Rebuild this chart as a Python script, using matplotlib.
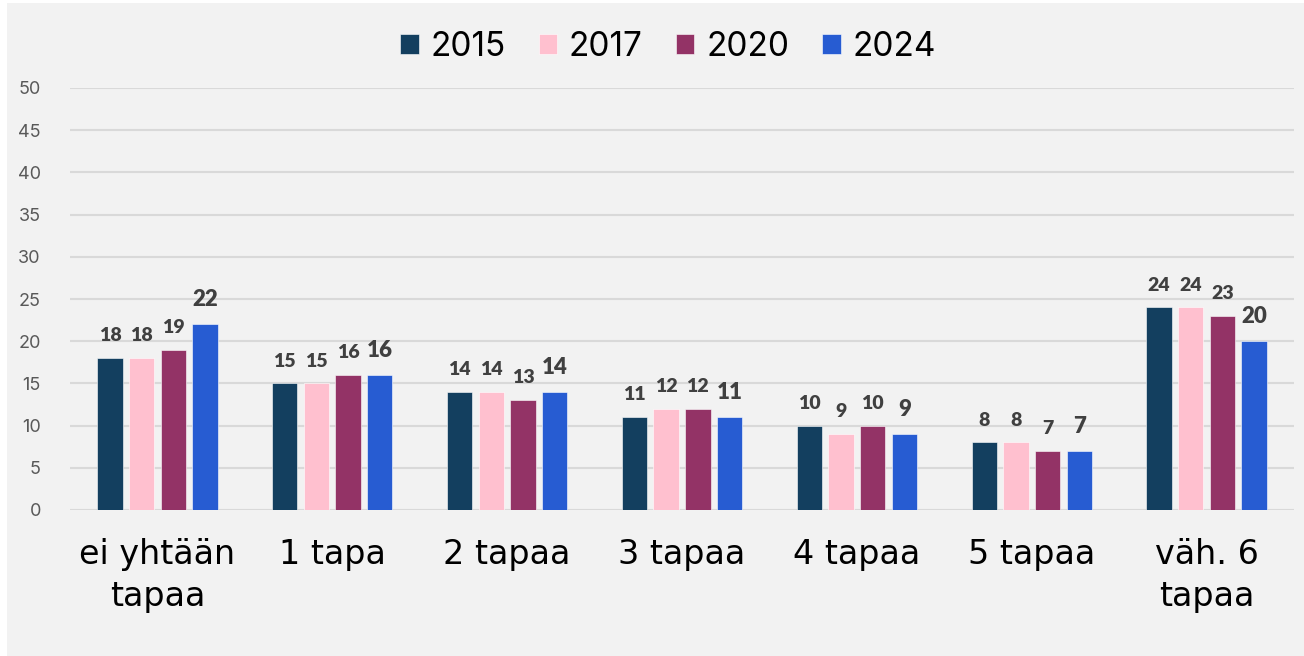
import matplotlib
matplotlib.use("Agg")
import matplotlib.pyplot as plt
import numpy as np
from matplotlib.patches import Rectangle

categories = ["ei yhtään\ntapaa", "1 tapa", "2 tapaa", "3 tapaa", "4 tapaa", "5 tapaa", "väh. 6\ntapaa"]
years = ["2015", "2017", "2020", "2024"]
v2015 = [18, 15, 14, 11, 10, 8, 24]
v2017 = [18, 15, 14, 12, 9, 8, 24]
v2020 = [19, 16, 13, 12, 10, 7, 23]
v2024 = [22, 16, 14, 11, 9, 7, 20]
series = [v2015, v2017, v2020, v2024]
colors = ["#133F5F", "#FFC0CF", "#933366", "#275CD2"]
yticks = [0, 5, 10, 15, 20, 25, 30, 35, 40, 45, 50]

BG = "#F2F2F2"
fig = plt.figure(figsize=(13.04, 6.56), dpi=100)
fig.patch.set_facecolor("white")
fig.add_artist(Rectangle((7/1304, 0), 1 - 7/1304, 1 - 3/656, transform=fig.transFigure,
                         facecolor=BG, edgecolor="none", zorder=-10))

ax = fig.add_axes([70/1304, 1 - 510/656, (1294 - 70)/1304, (510 - 88)/656])
ax.set_facecolor(BG)
ax.patch.set_alpha(0)

x = np.arange(len(categories))
pitch = 0.181
width = 0.145
for i, (vals, c, yr) in enumerate(zip(series, colors, years)):
    pos = x + (i - 1.5) * pitch
    ax.bar(pos, vals, width, color=c, label=yr, zorder=3, edgecolor="white", linewidth=0.4)
    fs = 16 if i == 3 else 14
    for px, v in zip(pos, vals):
        ax.annotate(str(v), (px, v), xytext=(0, 10), textcoords="offset points",
                    ha="center", va="bottom", fontsize=fs, fontweight="heavy",
                    color="#404040", family="Lato")

ax.set_xlim(-0.5, len(categories) - 0.5)
ax.set_ylim(0, 50)
ax.set_yticks(yticks)
ax.set_yticklabels([str(t) for t in yticks], fontsize=13, color="#595959", family="Inter")
ax.yaxis.grid(True, color="#D9D9D9", linewidth=1.5, zorder=0)
ax.set_axisbelow(True)
ax.tick_params(axis="y", length=0, pad=21)
ax.tick_params(axis="x", length=0, pad=20)
ax.set_xticks(x)
ax.set_xticklabels(categories, fontsize=24, color="#000000", family="DejaVu Sans", linespacing=1.35)
for s in ax.spines.values():
    s.set_visible(False)

leg = fig.legend(loc="center", bbox_to_anchor=(668/1304, 1 - 47/656), ncol=4, frameon=False,
                 prop={"family": "Inter", "size": 24}, handlelength=0.55, handleheight=0.55,
                 handletextpad=0.35, columnspacing=1.0)
for t in leg.get_texts():
    t.set_color("black")

fig.savefig("out.png", dpi=100, facecolor=fig.get_facecolor())
